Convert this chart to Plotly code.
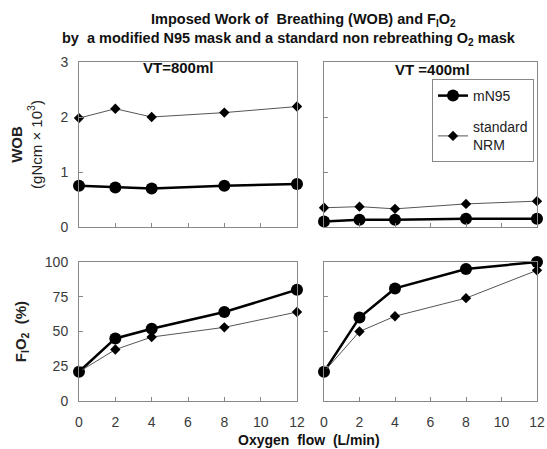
import plotly.graph_objects as go

flow = [0, 2, 4, 8, 12]
x_ticks = [0, 2, 4, 6, 8, 10, 12]

wob800_mn95 = [0.75, 0.72, 0.70, 0.75, 0.78]
wob800_nrm = [1.98, 2.15, 2.00, 2.08, 2.19]
wob400_mn95 = [0.10, 0.13, 0.13, 0.15, 0.15]
wob400_nrm = [0.35, 0.37, 0.33, 0.42, 0.47]

fio2_800_mn95 = [21, 45, 52, 64, 80]
fio2_800_nrm = [21, 37, 46, 53, 64]
fio2_400_mn95 = [21, 60, 81, 95, 100]
fio2_400_nrm = [21, 50, 61, 74, 94]

W, H = 547, 449
def px_x(a, b):
    return [a / W, b / W]
def px_y(top, bottom):
    return [(H - bottom) / H, (H - top) / H]
def px(xp):
    return xp / W
def py(yp):
    return (H - yp) / H

fig = go.Figure()

mn95_style = dict(mode="lines+markers", line=dict(color="black", width=2.5),
                  marker=dict(symbol="circle", size=12, color="black"), cliponaxis=False)
nrm_style = dict(mode="lines+markers", line=dict(color="#555555", width=1),
                 marker=dict(symbol="diamond", size=8, color="black"), cliponaxis=False)

panels = [
    ("x", "y", wob800_mn95, wob800_nrm, True),
    ("x2", "y2", wob400_mn95, wob400_nrm, False),
    ("x3", "y3", fio2_800_mn95, fio2_800_nrm, False),
    ("x4", "y4", fio2_400_mn95, fio2_400_nrm, False),
]
for xa, ya, m, n, leg in panels:
    fig.add_trace(go.Scatter(x=flow, y=m, xaxis=xa, yaxis=ya, name="mN95",
                             legendgroup="mn95", showlegend=leg, **mn95_style))
    fig.add_trace(go.Scatter(x=flow, y=n, xaxis=xa, yaxis=ya, name="standard<br>NRM",
                             legendgroup="nrm", showlegend=leg, **nrm_style))

tickfont = dict(family="Liberation Sans, Arial", size=14, color="#3a3a3a")
axcommon = dict(showline=True, linecolor="#888888", linewidth=1, mirror=True,
                showgrid=False, zeroline=False, ticks="inside", ticklen=4,
                tickcolor="#888888", tickfont=tickfont, automargin=False)

xl = px_x(79, 297)
xr = px_x(324, 537)
yt = px_y(62, 227)
yb = px_y(262, 401)

xcommon = dict(axcommon, range=[0, 12], tickvals=x_ticks)
fig.update_layout(
    xaxis=dict(xcommon, domain=xl, anchor="y", showticklabels=False),
    xaxis2=dict(xcommon, domain=xr, anchor="y2", showticklabels=False),
    xaxis3=dict(xcommon, domain=xl, anchor="y3", ticklabelstandoff=8),
    xaxis4=dict(xcommon, domain=xr, anchor="y4", ticklabelstandoff=8,
                ticklabeloverflow="allow"),
    yaxis=dict(axcommon, domain=yt, anchor="x", range=[0, 3], tickvals=[0, 1, 2, 3],
               ticklabelstandoff=7,
               title=dict(text="<b>WOB</b><br>(gNcm × 10<sup>3</sup>)",
                          font=dict(family="Liberation Sans, Arial", size=15, color="#222222"),
                          standoff=14)),
    yaxis2=dict(axcommon, domain=yt, anchor="x2", range=[0, 3], tickvals=[0, 1, 2, 3],
                showticklabels=False),
    yaxis3=dict(axcommon, domain=yb, anchor="x3", range=[0, 100], tickvals=[0, 25, 50, 75, 100],
                ticklabelstandoff=7,
                title=dict(text="<b>F<sub>I</sub>O<sub>2</sub>  (%)</b>",
                           font=dict(family="Liberation Sans, Arial", size=15, color="#222222"),
                           standoff=14)),
    yaxis4=dict(axcommon, domain=yb, anchor="x4", range=[0, 100], tickvals=[0, 25, 50, 75, 100],
                showticklabels=False),
    width=W, height=H,
    margin=dict(l=0, r=0, t=0, b=0),
    plot_bgcolor="white", paper_bgcolor="white",
    showlegend=True,
    legend=dict(x=px(432), y=py(79), xanchor="left", yanchor="top",
                bordercolor="#888888", borderwidth=1, bgcolor="white",
                font=dict(family="Liberation Sans, Arial", size=14, color="#222222"),
                traceorder="grouped", tracegroupgap=10, itemwidth=30),
)

title_font = dict(family="Liberation Sans, Arial", size=14.5, color="#111111")
fig.add_annotation(text="<b>Imposed Work of  Breathing (WOB) and F<sub>I</sub>O<sub>2</sub></b>",
                   x=px(303), y=py(20), xref="paper", yref="paper", yanchor="middle",
                   showarrow=False, font=title_font)
fig.add_annotation(text="<b>by  a modified N95 mask and a standard non rebreathing O<sub>2</sub> mask</b>",
                   x=px(289), y=py(39), xref="paper", yref="paper", yanchor="middle",
                   showarrow=False, font=title_font)
fig.add_annotation(text="<b>VT=800ml</b>", x=5.45, y=2.9, xref="x", yref="y",
                   yanchor="middle",
                   showarrow=False, font=dict(family="Liberation Sans, Arial", size=15, color="#111111"))
fig.add_annotation(text="<b>VT =400ml</b>", x=6.1, y=2.86, xref="x2", yref="y2",
                   yanchor="middle",
                   showarrow=False, font=dict(family="Liberation Sans, Arial", size=15, color="#111111"))
fig.add_annotation(text="<b>Oxygen  flow  (L/min)</b>", x=px(309), y=py(440),
                   xref="paper", yref="paper", yanchor="middle", showarrow=False,
                   font=dict(family="Liberation Sans, Arial", size=14, color="#111111"))

fig.write_html("out.html", config={"displayModeBar": False},
               post_script="document.body.style.margin='0';document.body.style.overflow='hidden';")
